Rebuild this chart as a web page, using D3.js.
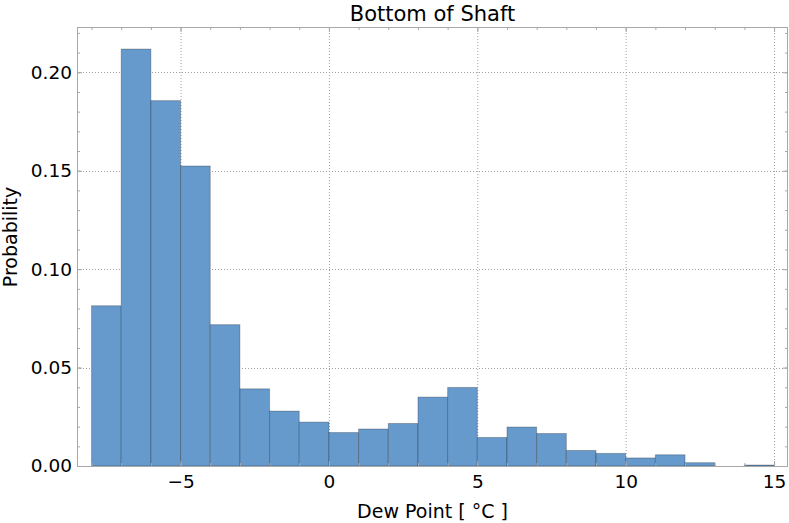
<!DOCTYPE html>
<meta charset="utf-8">
<style>
    body { margin: 0; background: #fff; }
    text { font-family: "DejaVu Sans", "Liberation Sans", Arial, sans-serif; fill: #000; }
    .grid line { stroke: #a0a0a0; stroke-dasharray: 1,2; }
    .frame { fill: none; stroke: #a8a8a8; stroke-width: 1; }
    .axis path { display: none; }
    .axis line { stroke: #a8a8a8; }
    .axis text { font-family: "DejaVu Sans", sans-serif; font-size: 18.5px; fill: #000; }
    .bar { fill: #6699cc; stroke: rgba(0,0,0,0.25); stroke-width: 1; }
    .title { font-size: 21px; text-anchor: middle; }
    .label { font-size: 19px; text-anchor: middle; }
</style>
<svg width="789" height="523"></svg>
<script src="https://d3js.org/d3.v7.min.js"></script>
<script>

    // histogram bins (left edges, width 1 °C) and their probabilities
    var binStart = [-8, -7, -6, -5, -4, -3, -2, -1, 0, 1, 2, 3, 4, 5, 6, 7, 8, 9, 10, 11, 12, 13, 14];
    var probability = [0.0814, 0.2118, 0.1856, 0.1524, 0.0718, 0.0392, 0.0279, 0.0223, 0.0170, 0.0188,
                       0.0216, 0.0350, 0.0399, 0.0145, 0.0198, 0.0165, 0.0079, 0.0064, 0.0041, 0.0057,
                       0.0017, 0, 0.0005];
    var binWidth = 1;

    var xTicks = [-5, 0, 5, 10, 15];
    var yTicks = [0, 0.05, 0.10, 0.15, 0.20];
    var xDomain = [-8.49, 15.47];
    var yDomain = [0, 0.223];

    var svg = d3.select("svg"),
        width = +svg.attr("width"),
        height = +svg.attr("height"),
        margin = {top: 27, right: 1, bottom: 57, left: 77},
        w = width - margin.left - margin.right,
        h = height - margin.top - margin.bottom,
        g = svg.append("g").attr("transform", "translate(" + margin.left + "," + margin.top + ")");

    var x = d3.scaleLinear().domain(xDomain).range([0, w]);
    var y = d3.scaleLinear().domain(yDomain).range([h, 0]);

    var bins = binStart.map(function(b, i) { return {x0: b, x1: b + binWidth, p: probability[i]}; });

    // dotted grid at the major ticks
    var grid = g.append("g").attr("class", "grid");
    grid.selectAll(".gx").data(xTicks).enter().append("line")
        .attr("x1", function(d) { return x(d) + 0.5; }).attr("x2", function(d) { return x(d) + 0.5; })
        .attr("y1", 0).attr("y2", h);
    grid.selectAll(".gy").data(yTicks.slice(1)).enter().append("line")
        .attr("y1", function(d) { return Math.round(y(d)) + 0.5; }).attr("y2", function(d) { return Math.round(y(d)) + 0.5; })
        .attr("x1", 0).attr("x2", w);

    g.selectAll(".bar")
        .data(bins.filter(function(d) { return d.p > 0; }))
        .enter().append("rect")
        .attr("class", "bar")
        .attr("x", function(d) { return x(d.x0); })
        .attr("width", function(d) { return x(d.x1) - x(d.x0); })
        .attr("y", function(d) { return y(d.p); })
        .attr("height", function(d) { return y(0) - y(d.p); });

    // minor ticks, every 1 on x and 0.01 on y
    var xMinor = d3.range(-8, 16, 1), yMinor = d3.range(0, 0.225, 0.01);

    function noLabels(a) { return a.tickFormat("").tickPadding(0); }

    g.append("g").attr("class", "axis").attr("transform", "translate(0," + h + ")")
        .call(noLabels(d3.axisBottom(x).tickValues(xMinor).tickSize(-3)));
    g.append("g").attr("class", "axis")
        .call(noLabels(d3.axisTop(x).tickValues(xMinor).tickSize(-3)));
    g.append("g").attr("class", "axis")
        .call(noLabels(d3.axisLeft(y).tickValues(yMinor).tickSize(-3)));
    g.append("g").attr("class", "axis").attr("transform", "translate(" + w + ",0)")
        .call(noLabels(d3.axisRight(y).tickValues(yMinor).tickSize(-3)));

    g.append("g").attr("class", "axis").attr("transform", "translate(0," + h + ")")
        .call(d3.axisBottom(x).tickValues(xTicks).tickSize(-5).tickPadding(9).tickFormat(d3.format("d")));
    g.append("g").attr("class", "axis")
        .call(noLabels(d3.axisTop(x).tickValues(xTicks).tickSize(-5)));
    g.append("g").attr("class", "axis")
        .call(d3.axisLeft(y).tickValues(yTicks).tickSize(-5).tickPadding(5).tickFormat(d3.format(".2f")));
    g.append("g").attr("class", "axis").attr("transform", "translate(" + w + ",0)")
        .call(noLabels(d3.axisRight(y).tickValues(yTicks).tickSize(-5)));

    g.append("rect").attr("class", "frame")
        .attr("x", 0.5).attr("y", 0.5).attr("width", w - 1).attr("height", h);

    svg.append("text").attr("class", "title")
        .attr("x", margin.left + w / 2).attr("y", 20.5)
        .text("Bottom of Shaft");

    svg.append("text").attr("class", "label")
        .attr("x", margin.left + w / 2).attr("y", 518)
        .text("Dew Point [ °C ]");

    svg.append("text").attr("class", "label")
        .attr("transform", "translate(17,237) rotate(-90)")
        .text("Probability");

</script>
